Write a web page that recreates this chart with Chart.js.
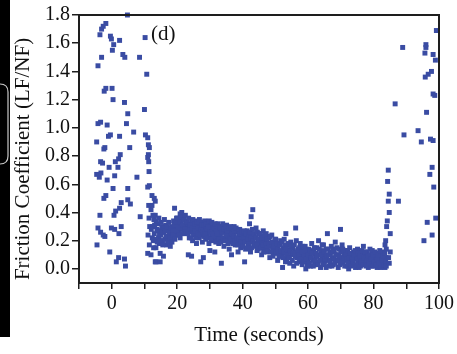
<!DOCTYPE html>
<html>
<head>
<meta charset="utf-8">
<script src="https://cdn.jsdelivr.net/npm/chart.js@4/dist/chart.umd.min.js"></script>
<style>
  html, body { margin: 0; padding: 0; background: #fff; }
  canvas { display: block; }
</style>
</head>
<body>
<canvas id="friction_chart" width="457" height="354"></canvas>
<script>
"use strict";

// tick labels
var xTickLabels = [0, 20, 40, 60, 80, 100];
var yTickLabels = [0.0, 0.2, 0.4, 0.6, 0.8, 1.0, 1.2, 1.4, 1.6, 1.8];

// [time (s), friction coefficient]
// start-up: scattered values before the steady sliding
var startPoints = [
    [-1.8,1.74],[-2.6,1.72],[-3.1,1.70],[-3.6,1.66],[-0.4,1.65],[-0.1,1.63],[2.4,1.62],[10.2,1.64],
    [0.6,1.59],[0.2,1.55],[3.4,1.52],[4.0,1.50],[-3.1,1.50],[8.5,1.50],[-4.2,1.44],[10.7,1.38],
    [-1.8,1.28],[-2.3,1.26],[0.1,1.28],[0.4,1.20],[3.9,1.18],[10.0,1.13],[4.9,1.10],[-4.2,1.03],
    [-3.4,1.04],[-1.4,1.02],[4.5,1.03],[-0.4,0.95],[-1.0,0.94],[2.4,0.94],[6.7,0.97],[10.3,0.95],
    [11.0,0.93],[-4.6,0.90],[-2.1,0.86],[5.5,0.86],[11.5,0.86],[4.8,1.80],[-2.4,0.85],[2.6,0.81],
    [2.1,0.78],[11.0,0.79],[11.3,0.76],[-3.4,0.76],[-2.8,0.75],[-0.8,0.72],[1.1,0.76],[1.9,0.72],
    [-4.6,0.67],[-3.8,0.65],[-1.4,0.63],[0.9,0.66],[7.7,0.65],[11.5,0.59],[11.0,0.58],[0.4,0.57],
    [4.9,0.57],[-1.8,0.52],[-2.4,0.50],[4.9,0.49],[5.7,0.46],[12.3,0.52],[2.9,0.47],[2.4,0.43],
    [1.2,0.41],[0.7,0.38],[-3.6,0.38],[8.7,0.37],[12.0,0.42],[2.9,0.30],[0.9,0.28],[-0.1,0.29],
    [-4.2,0.29],[-3.4,0.26],[-2.6,0.24],[-2.1,0.23],[2.2,0.25],[-4.5,0.17],[-0.6,0.12],[11.5,0.17],
    [11.0,0.11],[12.0,0.10],[2.1,0.08],[1.4,0.05],[3.9,0.07],[4.2,0.02],[13.5,0.05],[11.2,0.88],
    [11.2,0.81],[11.4,0.69],[11.3,0.45],[11.6,0.30],[11.1,0.24],[11.4,0.36],[-3.3,0.68]
];

// steady sliding band, first pass
var bandPoints = [
    [12.3,0.45],[12.5,0.30],[12.7,0.20],[12.9,0.35],[13.0,0.50],[13.3,0.48],[13.0,0.25],[13.3,0.38],
    [13.5,0.15],[13.8,0.28],[13.3,0.05],[14.0,0.32],[14.3,0.22],[14.5,0.18],[14.8,0.27],[14.8,0.05],
    [14.8,0.11],[15.0,0.24],[15.3,0.30],[15.5,0.20],[15.8,0.09],[16.0,0.26],[16.3,0.21],[16.5,0.31],
    [16.8,0.17],[17.0,0.23],[17.3,0.28],[17.5,0.19],[17.9,0.16],[18.0,0.25],[18.3,0.30],[18.6,0.22],
    [18.9,0.34],[19.2,0.43],[19.4,0.29],[19.6,0.24],[19.8,0.36],[20.0,0.31],[20.3,0.27],[20.6,0.35],
    [20.9,0.22],[20.9,0.39],[21.2,0.33],[21.4,0.40],[21.6,0.28],[21.9,0.36],[22.1,0.31],[22.4,0.25],
    [22.6,0.34],[22.9,0.29],[23.1,0.27],[23.4,0.10],[23.4,0.32],[23.7,0.22],[23.9,0.30],[24.1,0.26],
    [24.4,0.09],[24.4,0.33],[24.7,0.20],[24.9,0.28],[25.1,0.30],[25.4,0.24],[25.7,0.34],[25.9,0.18],
    [26.1,0.27],[26.4,0.31],[26.7,0.22],[26.9,0.29],[27.2,0.05],[27.2,0.33],[27.4,0.25],[27.7,0.19],
    [27.9,0.30],[28.0,0.08],[28.2,0.27],[28.4,0.34],[28.7,0.21],[28.9,0.29],[29.1,0.25],[29.4,0.32],
    [29.7,0.18],[29.9,0.27],[30.0,0.13],[30.2,0.30],[30.5,0.23],[30.8,0.28],[31.0,0.20],[31.3,0.31],
    [31.5,0.12],[31.7,0.25],[31.9,0.29],[32.1,0.22],[32.4,0.32],[32.7,0.18],[32.9,0.27],[33.2,0.24],
    [33.5,0.04],[33.5,0.30],[33.8,0.20],[34.0,0.26],[34.3,0.16],[34.6,0.29],[34.9,0.23],[35.1,0.31],
    [35.4,0.21],[35.7,0.26],[35.9,0.14],[36.2,0.24],[36.6,0.10],[36.6,0.28],[36.9,0.19],[37.1,0.25],
    [37.4,0.30],[37.7,0.17],[37.9,0.22],[38.2,0.26],[38.6,0.12],[38.6,0.20],[38.9,0.24],[39.1,0.28],
    [39.4,0.15],[39.7,0.22],[39.9,0.18],[40.2,0.25],[40.6,0.05],[40.6,0.20],[40.9,0.14],[41.1,0.23],
    [41.4,0.27],[41.7,0.17],[41.9,0.21],[42.1,0.32],[42.4,0.12],[42.6,0.37],[42.8,0.19],[43.1,0.42],
    [43.3,0.24],[43.6,0.16],[43.9,0.22],[44.1,0.29],[44.4,0.13],[44.7,0.20],[44.9,0.25],[45.2,0.17],
    [45.5,0.23],[45.8,0.10],[46.0,0.19],[46.3,0.27],[46.6,0.15],[46.9,0.21],[47.2,0.25],[47.4,0.12],
    [47.7,0.18],[48.0,0.22],[48.3,0.08],[48.6,0.16],[48.9,0.24],[49.2,0.14],[49.5,0.19],[49.8,0.11],
    [50.1,0.21],[50.4,0.15],[50.7,0.06],[51.0,0.18],[51.3,0.12],[51.6,0.20],[51.9,0.09],[52.2,0.01],
    [52.4,0.15],[52.7,0.21],[53.0,0.11],[53.2,0.25],[53.5,0.07],[53.8,0.17],[54.1,0.13],[54.4,0.04],
    [54.7,0.19],[55.0,0.10],[55.3,0.15],[55.6,0.02],[55.9,0.12],[56.2,0.29],[56.4,0.20],[56.7,0.08],
    [57.0,0.14],[57.3,0.05],[57.6,0.18],[57.9,0.10],[58.2,0.03],[58.5,0.13],[58.8,0.07],[59.1,0.16],
    [59.3,0.00],[59.6,0.11],[59.9,0.05],[60.2,0.14],[60.5,0.08],[60.8,0.02],[61.1,0.18],[61.4,0.06],
    [61.7,0.12],[62.0,0.03],[62.3,0.09],[62.6,0.15],[62.9,0.05],[63.2,0.20],[63.5,0.10],[63.8,0.01],
    [64.1,0.13],[64.4,0.07],[64.7,0.17],[65.0,0.04],[65.3,0.10],[65.6,0.14],[65.9,0.25],[66.2,0.06],
    [66.5,0.02],[66.8,0.11],[67.1,0.16],[67.4,0.08],[67.7,0.03],[68.0,0.12],[68.3,0.19],[68.6,0.06],
    [68.9,0.10],[69.2,0.01],[69.5,0.14],[69.9,0.28],[70.1,0.08],[70.4,0.17],[70.7,0.04],[71.0,0.11],
    [71.3,0.06],[71.6,0.13],[71.9,0.02],[72.2,0.09],[72.4,0.00],[72.7,0.15],[73.0,0.05],[73.3,0.10],
    [73.6,0.03],[73.9,0.12],[74.2,0.07],[74.5,0.01],[74.8,0.09],[75.1,0.14],[75.4,0.04],[75.7,0.08],
    [76.0,0.02],[76.3,0.11],[76.6,0.06],[76.9,0.16],[77.2,0.03],[77.5,0.09],[77.8,0.05],[78.1,0.12],
    [78.4,0.01],[78.7,0.07],[79.0,0.10],[79.3,0.04],[79.6,0.13],[79.9,0.02],[80.2,0.08],[80.5,0.05],
    [80.8,0.11],[81.1,0.01],[81.4,0.06],[81.7,0.09],[82.0,0.03],[82.3,0.07],[82.6,0.12],[82.9,0.02],
    [83.2,0.05],[83.5,0.01],[83.8,0.08]
];

// steady sliding band, second pass (the solid core of the band)
var bandCorePoints = [
    [12.1,0.28],[12.4,0.22],[12.6,0.38],[12.8,0.15],[13.1,0.31],[13.4,0.21],[13.6,0.34],[13.9,0.19],
    [14.1,0.27],[14.4,0.36],[14.6,0.24],[14.9,0.20],[15.1,0.33],[15.4,0.26],[15.6,0.17],[15.9,0.29],
    [16.1,0.35],[16.4,0.27],[16.6,0.23],[16.9,0.30],[17.1,0.20],[17.4,0.33],[17.6,0.26],[17.8,0.22],
    [18.1,0.29],[18.4,0.19],[18.7,0.27],[18.8,0.24],[19.1,0.31],[19.3,0.21],[19.7,0.33],[19.9,0.27],
    [20.1,0.36],[20.4,0.30],[20.5,0.24],[20.8,0.33],[21.0,0.29],[21.3,0.37],[21.5,0.25],[21.8,0.31],
    [22.0,0.35],[22.3,0.28],[22.5,0.38],[22.8,0.26],[23.0,0.33],[23.3,0.25],[23.5,0.36],[23.8,0.28],
    [24.0,0.31],[24.3,0.22],[24.5,0.29],[24.8,0.35],[25.0,0.25],[25.3,0.32],[25.5,0.27],[25.8,0.22],
    [26.0,0.33],[26.3,0.25],[26.5,0.29],[26.8,0.35],[27.0,0.24],[27.3,0.28],[27.5,0.31],[27.8,0.26],
    [28.1,0.23],[28.3,0.31],[28.5,0.25],[28.8,0.32],[29.0,0.28],[29.3,0.22],[29.5,0.30],[29.8,0.34],
    [30.1,0.26],[30.3,0.21],[30.6,0.33],[30.9,0.25],[31.1,0.29],[31.4,0.23],[31.6,0.32],[31.8,0.19],
    [32.0,0.27],[32.3,0.25],[32.5,0.30],[32.8,0.21],[33.0,0.29],[33.3,0.19],[33.6,0.26],[33.9,0.32],
    [34.1,0.22],[34.4,0.28],[34.5,0.20],[34.8,0.30],[35.0,0.24],[35.3,0.27],[35.5,0.18],[35.8,0.29],
    [36.0,0.22],[36.3,0.30],[36.5,0.21],[36.8,0.25],[37.0,0.18],[37.3,0.23],[37.5,0.27],[37.8,0.20],
    [38.0,0.29],[38.3,0.22],[38.5,0.17],[38.8,0.27],[39.0,0.21],[39.3,0.25],[39.5,0.19],[39.8,0.26],
    [40.0,0.16],[40.3,0.22],[40.5,0.27],[40.8,0.19],[41.0,0.25],[41.3,0.15],[41.5,0.21],[41.8,0.24],
    [42.0,0.18],[42.3,0.26],[42.5,0.22],[42.7,0.15],[43.0,0.28],[43.2,0.20],[43.5,0.25],[43.8,0.18],
    [44.0,0.22],[44.3,0.17],[44.5,0.26],[44.8,0.14],[45.0,0.21],[45.3,0.25],[45.6,0.15],[45.9,0.22],
    [46.1,0.17],[46.4,0.12],[46.7,0.24],[47.0,0.18],[47.3,0.15],[47.5,0.21],[47.8,0.13],[48.1,0.18],
    [48.4,0.23],[48.7,0.12],[49.0,0.19],[49.3,0.09],[49.6,0.16],[49.9,0.21],[50.2,0.12],[50.5,0.18],
    [50.8,0.14],[51.1,0.09],[51.4,0.17],[51.7,0.13],[52.0,0.19],[52.3,0.08],[52.6,0.12],[52.9,0.17],
    [53.1,0.05],[53.4,0.14],[53.7,0.10],[54.0,0.18],[54.3,0.08],[54.6,0.13],[54.9,0.16],[55.2,0.06],
    [55.5,0.11],[55.8,0.17],[56.1,0.09],[56.5,0.04],[56.8,0.13],[57.1,0.10],[57.4,0.15],[57.7,0.07],
    [58.0,0.12],[58.3,0.16],[58.6,0.05],[58.9,0.10],[59.2,0.13],[59.5,0.07],[59.8,0.02],[60.1,0.10],
    [60.4,0.04],[60.7,0.13],[61.0,0.08],[61.3,0.11],[61.6,0.02],[61.9,0.15],[62.2,0.06],[62.5,0.11],
    [62.8,0.09],[63.1,0.03],[63.4,0.14],[63.7,0.06],[64.0,0.10],[64.3,0.17],[64.6,0.03],[64.9,0.12],
    [65.2,0.07],[65.5,0.01],[65.8,0.09],[66.1,0.14],[66.4,0.10],[66.7,0.05],[67.0,0.12],[67.3,0.02],
    [67.6,0.14],[67.9,0.07],[68.2,0.04],[68.5,0.10],[68.8,0.15],[69.1,0.06],[69.4,0.09],[69.7,0.03],
    [70.0,0.12],[70.3,0.05],[70.6,0.14],[70.9,0.08],[71.2,0.02],[71.5,0.10],[71.8,0.07],[72.1,0.13],
    [72.3,0.04],[72.6,0.08],[72.9,0.11],[73.2,0.02],[73.5,0.07],[73.8,0.05],[74.1,0.10],[74.4,0.13],
    [74.7,0.03],[75.0,0.07],[75.3,0.11],[75.6,0.01],[75.9,0.09],[76.2,0.05],[76.5,0.13],[76.8,0.03],
    [77.1,0.08],[77.4,0.12],[77.7,0.02],[78.0,0.06],[78.3,0.09],[78.6,0.04],[78.9,0.14],[79.2,0.07],
    [79.5,0.02],[79.8,0.10],[80.1,0.05],[80.4,0.12],[80.7,0.03],[81.0,0.07],[81.3,0.10],[81.6,0.04],
    [81.9,0.13],[82.2,0.01],[82.5,0.06],[82.8,0.09],[83.1,0.03],[83.4,0.11],[83.7,0.05],[83.9,0.02]
];

// end of the run: sharp rise and scatter
var endPoints = [
    [84.5,0.70],[84.3,0.62],[84.8,0.53],[84.5,0.48],[84.8,0.40],[84.2,0.34],[85.1,0.25],[83.7,0.20],
    [83.5,0.17],[85.1,0.12],[84.8,0.04],[84.0,0.30],[84.6,0.08],[83.9,0.14],[87.6,0.48],[86.6,1.17],
    [88.9,1.57],[89.3,0.95],[93.6,0.98],[94.6,0.90],[95.4,0.20],[96.4,0.33],[97.9,0.24],[99.0,0.36],
    [98.4,0.58],[97.2,0.67],[97.9,0.72],[96.2,1.11],[97.4,0.92],[98.2,0.91],[98.2,1.24],[98.7,1.23],
    [95.8,1.36],[96.7,1.38],[97.7,1.40],[98.9,1.48],[98.2,1.52],[95.7,1.53],[96.0,1.57],[96.0,1.59],
    [99.2,1.69]
];

var serif = '"Liberation Serif", "Times New Roman", serif';
var markColor = '#3a4ca3';
var inkColor = '#1e1e1e';
var yTitle = 'Friction Coefficient (LF/NF)';

function toXY(p) { return { x: p[0], y: p[1] }; }

// frame, left black strip, y title and panel letter
var decorPlugin = {
    id: 'decor',
    beforeDraw: function (chart) {
        var ctx = chart.ctx;
        ctx.save();
        ctx.fillStyle = '#000';
        ctx.fillRect(0, 0, 10, 337);
        ctx.strokeStyle = '#c8c8c8';
        ctx.lineWidth = 1.2;
        ctx.beginPath();
        ctx.moveTo(0, 84);
        ctx.quadraticCurveTo(8, 84, 8, 92);
        ctx.lineTo(8, 156);
        ctx.quadraticCurveTo(8, 164, 0, 164);
        ctx.stroke();
        ctx.restore();
    },
    afterDatasetsDraw: function (chart) {
        var ctx = chart.ctx;
        var a = chart.chartArea;
        ctx.save();
        ctx.strokeStyle = inkColor;
        ctx.lineWidth = 2;
        ctx.strokeRect(a.left, a.top, a.right - a.left, a.bottom - a.top);
        ctx.fillStyle = '#111';
        ctx.font = '21px ' + serif;
        ctx.textBaseline = 'middle';
        ctx.fillText('(d)', a.left + 72, a.top + 19);
        // y axis title sits a little below the plot centre in the original
        ctx.translate(23, (a.top + a.bottom) / 2 + 10);
        ctx.rotate(-Math.PI / 2);
        ctx.textAlign = 'center';
        ctx.font = '21px ' + serif;
        ctx.fillText(yTitle, 0, 0);
        ctx.restore();
    }
};

var frictionChartArea = document.getElementById("friction_chart");
var frictionChart = new Chart(frictionChartArea, {
    type: 'scatter',
    data: {
        datasets: [
            {
                label: "Friction coefficient",
                data: startPoints.concat(bandPoints, bandCorePoints, endPoints).map(toXY),
                pointStyle: 'rect',
                pointRadius: 3.5,
                pointBorderWidth: 0,
                backgroundColor: markColor,
                borderColor: markColor,
                clip: false
            }
        ]
    },
    options: {
        responsive: false,
        animation: false,
        devicePixelRatio: 1,
        layout: { padding: { left: 10, top: 15, right: 13, bottom: 6 } },
        plugins: { legend: { display: false }, tooltip: { enabled: false } },
        scales: {
            x: {
                type: 'linear',
                min: -10,
                max: 100,
                afterFit: function (scale) { scale.height = 65; },
                ticks: {
                    stepSize: 10,
                    autoSkip: false,
                    maxRotation: 0,
                    padding: 3,
                    color: '#111',
                    font: { family: serif, size: 20 },
                    callback: function (value) {
                        return xTickLabels.indexOf(value) >= 0 ? String(value) : '';
                    }
                },
                grid: { drawOnChartArea: false, tickLength: 6, color: inkColor, lineWidth: 1.5 },
                border: { color: inkColor, width: 2 },
                title: {
                    display: true,
                    text: 'Time (seconds)',
                    color: '#111',
                    font: { family: serif, size: 21 },
                    padding: { top: 0, bottom: 0 }
                }
            },
            y: {
                type: 'linear',
                min: -0.1,
                max: 1.8,
                afterFit: function (scale) { scale.width = 69; },
                afterBuildTicks: function (scale) {
                    scale.ticks = yTickLabels.map(function (v) { return { value: v }; });
                },
                ticks: {
                    padding: 2,
                    color: '#111',
                    font: { family: serif, size: 20 },
                    callback: function (value) { return Number(value).toFixed(1); }
                },
                grid: { drawOnChartArea: false, tickLength: 7, color: inkColor, lineWidth: 1.5 },
                border: { color: inkColor, width: 2 },
                title: { display: false }
            }
        }
    },
    plugins: [decorPlugin]
});
</script>
</body>
</html>
